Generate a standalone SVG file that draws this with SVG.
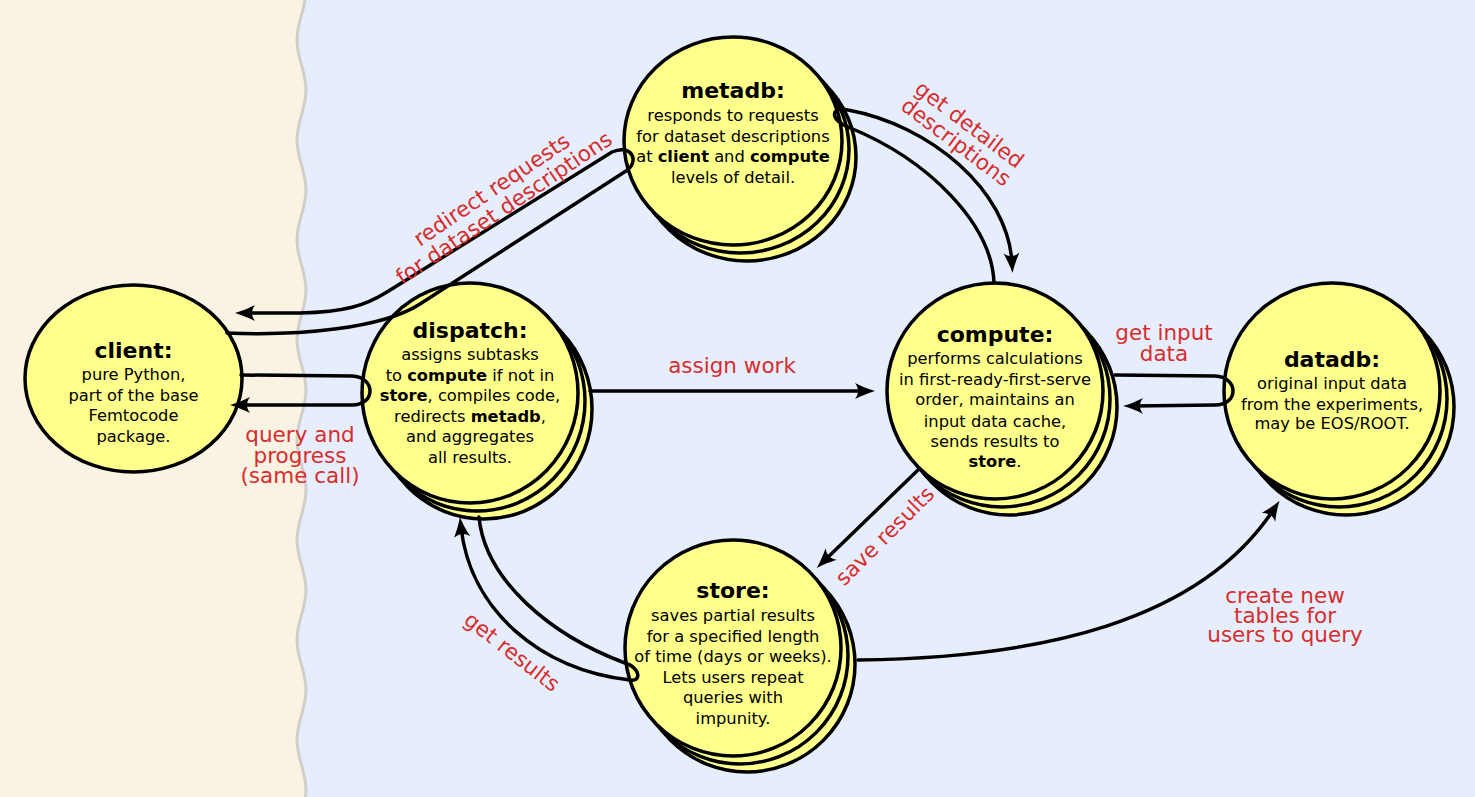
<svg xmlns="http://www.w3.org/2000/svg" width="1475" height="797" viewBox="0 0 1475 797">
<defs>
<style>
.node ellipse{fill:#ffff8c;stroke:#000;stroke-width:3.5}
.t{font-family:"DejaVu Sans",sans-serif;text-anchor:middle;fill:#000}
.ti{font-size:22px;font-weight:bold}
.b{font-size:16.3px}
.k{font-weight:bold}
.c{fill:none;stroke:#000;stroke-width:3.5;stroke-linejoin:round;stroke-linecap:round}
.arr{marker-end:url(#ah)}
.lab{font-family:"DejaVu Sans",sans-serif;font-size:21.5px;fill:#d62d2d;text-anchor:middle}
</style>
<marker id="ah" viewBox="-12 -10 24 20" refX="0" refY="0" markerWidth="24" markerHeight="20" markerUnits="userSpaceOnUse" orient="auto">
<path d="M 10,0 C 3,-2 -4,-5 -10,-8 C -6,-3 -6,3 -10,8 C -4,5 3,2 10,0 Z" fill="#000"/>
</marker>
</defs>

<g id="background">
<rect x="0" y="0" width="1475" height="797" fill="#e6eefd"/>
<path d="M 0,-10 L 306,-10 C 306,8 297,22 297,40 S 306,72 306,90 S 297,122 297,140 S 306,172 306,190 S 297,222 297,240 S 306,272 306,290 S 297,322 297,340 S 306,372 306,390 S 297,422 297,440 S 306,472 306,490 S 297,522 297,540 S 306,572 306,590 S 297,622 297,640 S 306,672 306,690 S 297,722 297,740 S 306,772 306,790 S 297,822 297,840 L 0,840 Z" fill="#faf2e3"/>
<path d="M 306,-10 C 306,8 297,22 297,40 S 306,72 306,90 S 297,122 297,140 S 306,172 306,190 S 297,222 297,240 S 306,272 306,290 S 297,322 297,340 S 306,372 306,390 S 297,422 297,440 S 306,472 306,490 S 297,522 297,540 S 306,572 306,590 S 297,622 297,640 S 306,672 306,690 S 297,722 297,740 S 306,772 306,790 S 297,822 297,840" fill="none" stroke="#d2cfcb" stroke-width="3"/>
</g>

<g id="client" class="node">
<ellipse cx="133.5" cy="378.5" rx="108.5" ry="93.5"/>
<text class="t ti" x="133.5" y="358">client:</text>
<text class="t b"><tspan x="133.5" y="380">pure Python,</tspan><tspan x="133.5" y="400.5">part of the base</tspan><tspan x="133.5" y="421">Femtocode</tspan><tspan x="133.5" y="441.5">package.</tspan></text>
</g>

<g id="dispatch" class="node">
<ellipse cx="484" cy="409" rx="108" ry="110"/>
<ellipse cx="477" cy="401" rx="108" ry="110"/>
<ellipse cx="470" cy="393" rx="108" ry="110"/>
<text class="t ti" x="470" y="338">dispatch:</text>
<text class="t b"><tspan x="470" y="360">assigns subtasks</tspan><tspan x="470" y="380.5">to <tspan class="k">compute</tspan> if not in</tspan><tspan x="470" y="401"><tspan class="k">store</tspan>, compiles code,</tspan><tspan x="470" y="421.5">redirects <tspan class="k">metadb</tspan>,</tspan><tspan x="470" y="442">and aggregates</tspan><tspan x="470" y="462.5">all results.</tspan></text>
</g>

<g id="metadb" class="node">
<ellipse cx="747" cy="157" rx="109" ry="104"/>
<ellipse cx="740" cy="149" rx="109" ry="104"/>
<ellipse cx="733" cy="141" rx="109" ry="104"/>
<text class="t ti" x="733" y="98">metadb:</text>
<text class="t b"><tspan x="733" y="120.7">responds to requests</tspan><tspan x="733" y="141.7">for dataset descriptions</tspan><tspan x="733" y="161.7">at <tspan class="k">client</tspan> and <tspan class="k">compute</tspan></tspan><tspan x="733" y="182.7">levels of detail.</tspan></text>
</g>

<g id="compute" class="node">
<ellipse cx="1009" cy="407" rx="108" ry="108"/>
<ellipse cx="1002" cy="399" rx="108" ry="108"/>
<ellipse cx="995" cy="391" rx="108" ry="108"/>
<text class="t ti" x="995" y="341.7">compute:</text>
<text class="t b"><tspan x="995" y="364">performs calculations</tspan><tspan x="995" y="385">in first-ready-first-serve</tspan><tspan x="995" y="405">order, maintains an</tspan><tspan x="995" y="426.7">input data cache,</tspan><tspan x="995" y="446.7">sends results to</tspan><tspan x="995" y="467.3"><tspan class="k">store</tspan>.</tspan></text>
</g>

<g id="datadb" class="node">
<ellipse cx="1346" cy="407" rx="108" ry="108"/>
<ellipse cx="1339" cy="399" rx="108" ry="108"/>
<ellipse cx="1332" cy="391" rx="108" ry="108"/>
<text class="t ti" x="1332" y="366.7">datadb:</text>
<text class="t b"><tspan x="1332" y="389">original input data</tspan><tspan x="1332" y="410">from the experiments,</tspan><tspan x="1332" y="429.3">may be EOS/ROOT.</tspan></text>
</g>

<g id="store" class="node">
<ellipse cx="747" cy="664" rx="108" ry="108"/>
<ellipse cx="740" cy="656" rx="108" ry="108"/>
<ellipse cx="733" cy="648" rx="108" ry="108"/>
<text class="t ti" x="733" y="598">store:</text>
<text class="t b"><tspan x="733" y="620.7">saves partial results</tspan><tspan x="733" y="641.7">for a specified length</tspan><tspan x="733" y="661.7">of time (days or weeks).</tspan><tspan x="733" y="682.7">Lets users repeat</tspan><tspan x="733" y="703.3">queries with</tspan><tspan x="733" y="724">impunity.</tspan></text>
</g>

<g id="connectors">
<path class="c arr" d="M 241,375 L 352,376 C 376,377 376,405 352,405 L 240,405"/>
<path class="c arr" d="M 227,333 C 300,336 382,328.5 420,304 L 626,171 C 640,162 632,143 612,152 L 387,292 C 365,305.7 345,312 300,313 L 245,313"/>
<path class="c arr" d="M 590,391 L 865,391"/>
<path class="c arr" d="M 994,283 C 992,225 930,160 848,127 C 830,120 830,106 848,110 C 930,125 1008,190 1012,263"/>
<path class="c arr" d="M 1115,375 L 1215,376 C 1239,377 1239,405 1215,405 L 1133,406"/>
<path class="c arr" d="M 918,470 L 824,561"/>
<path class="c arr" d="M 479,517 C 485,580 550,635 625,663 C 640,668 642,682 630,680 C 540,670 470,610 461,527"/>
<path class="c arr" d="M 858,660 C 1040,658 1200,622 1274,509"/>

<text class="lab"><tspan x="300" y="441.7">query and</tspan><tspan x="300" y="462.7">progress</tspan><tspan x="300" y="483.2">(same call)</tspan></text>
<text class="lab" transform="translate(497.5,198.5) rotate(-34)"><tspan x="0" y="-3.3">redirect requests</tspan><tspan x="0" y="18.7">for dataset descriptions</tspan></text>
<text class="lab" x="732" y="373">assign work</text>
<text class="lab" transform="translate(963,133) rotate(37)"><tspan x="0" y="-3.3">get detailed</tspan><tspan x="0" y="18.7">descriptions</tspan></text>
<text class="lab"><tspan x="1164" y="340">get input</tspan><tspan x="1164" y="360.7">data</tspan></text>
<text class="lab" transform="translate(890,541) rotate(-45)" x="0" y="0">save results</text>
<text class="lab" transform="translate(507.5,657.6) rotate(38)" x="0" y="0">get results</text>
<text class="lab"><tspan x="1285" y="602.5">create new</tspan><tspan x="1285" y="622.5">tables for</tspan><tspan x="1285" y="642">users to query</tspan></text>
</g>
</svg>
